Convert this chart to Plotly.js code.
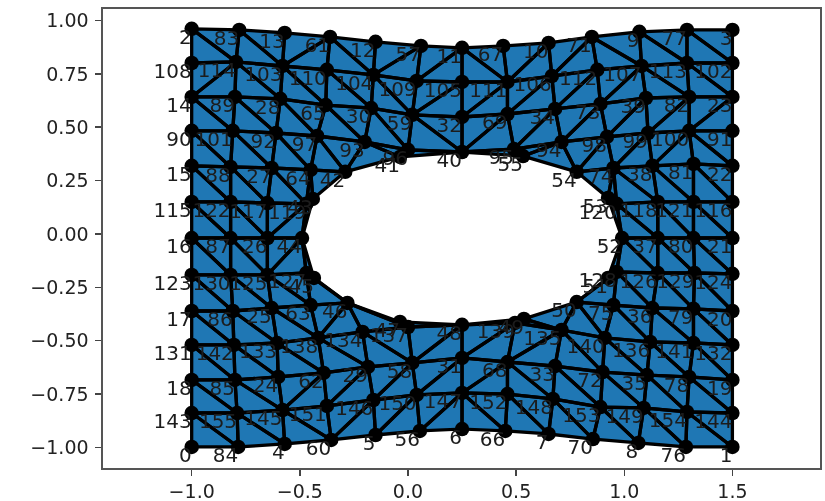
<!DOCTYPE html>
<html><head><meta charset="utf-8">
<script src="https://cdn.plot.ly/plotly-3.0.1.min.js"></script>
<style>html,body{margin:0;padding:0;background:#fff}#plot{width:825px;height:501px;filter:blur(0.75px)}</style>
</head><body><div id="plot"></div>
<script>
var n=null;
var rowIds=[
[2,83,13,61,12,57,11,67,10,71,9,77,3],
[108,114,103,110,104,109,105,111,106,112,107,113,102],
[14,89,28,65,30,59,32,69,34,73,39,82,23],
[90,101,92,97,93,96,40,95,94,98,99,100,91],
[15,88,27,64,42,n,n,n,54,74,38,81,22],
[115,122,117,119,43,n,n,n,53,120,118,121,116],
[16,87,26,44,n,n,n,n,n,52,37,80,21],
[123,130,125,127,45,n,n,n,51,128,126,129,124],
[17,86,25,63,46,n,n,n,50,75,36,79,20],
[131,142,133,138,134,137,48,139,135,140,136,141,132],
[18,85,24,62,29,58,31,68,33,72,35,78,19],
[143,155,145,151,146,150,147,152,148,153,149,154,144],
[0,84,4,60,5,56,6,66,7,70,8,76,1]];
var rowX=[
[-1,-.78,-.57,-.36,-.15,.06,.25,.44,.65,.85,1.07,1.29,1.5],
[-1,-.795,-.58,-.375,-.16,.04,.25,.46,.665,.875,1.08,1.29,1.5],
[-1,-.8,-.59,-.38,-.17,.02,.25,.46,.68,.89,1.1,1.3,1.5],
[-1,-.81,-.61,-.42,-.2,0,.25,.49,.71,.92,1.11,1.3,1.5],
[-1,-.82,-.63,-.45,-.29,n,n,n,.78,.95,1.13,1.32,1.5],
[-1,-.82,-.65,-.47,-.44,n,n,n,.925,.965,1.155,1.32,1.5],
[-1,-.82,-.65,-.49,n,n,n,n,n,.99,1.155,1.32,1.5],
[-1,-.82,-.65,-.47,-.435,n,n,n,.925,.965,1.155,1.325,1.5],
[-1,-.81,-.63,-.45,-.28,n,n,n,.78,.95,1.13,1.32,1.5],
[-1,-.805,-.605,-.415,-.21,0,.25,.495,.71,.91,1.12,1.32,1.5],
[-1,-.8,-.6,-.39,-.185,.02,.25,.46,.68,.9,1.105,1.3,1.5],
[-1,-.79,-.58,-.375,-.16,.04,.25,.46,.67,.89,1.09,1.29,1.5],
[-1,-.785,-.57,-.355,-.15,.055,.25,.45,.65,.855,1.065,1.285,1.5]];
var rowY=[
[.961,.956,.942,.923,.9,.881,.872,.881,.895,.923,.947,.956,.956],
[.801,.806,.787,.769,.745,.717,.712,.712,.74,.769,.787,.801,.801],
[.642,.642,.633,.604,.59,.558,.548,.562,.586,.609,.637,.642,.642],
[.483,.483,.473,.459,.431,.394,.384,.398,.431,.455,.473,.483,.483],
[.319,.314,.309,.3,.291,n,n,n,.291,.309,.319,.328,.319],
[.15,.15,.145,.141,.164,n,n,n,.169,.141,.15,.15,.15],
[-.019,-.019,-.019,-.019,n,n,n,n,n,-.019,-.019,-.019,-.019],
[-.192,-.192,-.192,-.183,-.206,n,n,n,-.206,-.178,-.183,-.183,-.187],
[-.361,-.361,-.347,-.333,-.323,n,n,n,-.319,-.333,-.347,-.351,-.361],
[-.52,-.52,-.511,-.487,-.459,-.436,-.426,-.417,-.45,-.487,-.506,-.511,-.52],
[-.684,-.684,-.67,-.651,-.623,-.604,-.581,-.6,-.619,-.647,-.661,-.67,-.684],
[-.839,-.839,-.825,-.806,-.778,-.754,-.745,-.75,-.773,-.811,-.815,-.834,-.839],
[-.998,-.998,-.984,-.965,-.942,-.923,-.914,-.923,-.937,-.961,-.979,-.998,-.998]];
var extraIds=[41,55,47,49];
var extraX=[-.037,.532,-.037,.536];
var extraY=[.361,.365,-.412,-.398];
var cellDiagonals=[
"bbfbffbffbbb",
"fbbbbfffffbb",
"bbbbbbffffff",
"bbbb....fffb",
"bbbb....fbbb",
"bbf......bbb",
"bbf......bbb",
"bbbb....fbbb",
"bbbf....bbbb",
"bbbbbfffbbbb",
"bbfffffbbbbb",
"bbbfffbbbbbb"];
var holeTriangles=[[93,96,41],[93,41,42],[96,40,41],[40,95,55],[95,94,55],[94,54,55],
[119,43,44],[53,120,52],[44,127,45],[52,128,51],
[46,47,137],[46,137,134],[47,48,137],[48,49,139],[49,135,139],[49,50,135]];
var xTicks=[-1,-.5,0,.5,1,1.5];
var yTicks=[-1,-.75,-.5,-.25,0,.25,.5,.75,1];

var pos={},ids=[],xs=[],ys=[];
rowIds.forEach(function(row,r){row.forEach(function(id,c){if(id===null)return;
  pos[id]=[rowX[r][c],rowY[r][c]];ids.push(id);xs.push(rowX[r][c]);ys.push(rowY[r][c]);});});
extraIds.forEach(function(id,i){pos[id]=[extraX[i],extraY[i]];ids.push(id);xs.push(extraX[i]);ys.push(extraY[i]);});
var tris=holeTriangles.slice();
cellDiagonals.forEach(function(d,r){for(var c=0;c<12;c++){
  var a=rowIds[r][c],b=rowIds[r][c+1],p=rowIds[r+1][c],q=rowIds[r+1][c+1];
  if(d[c]==='b'){tris.push([a,b,q],[a,q,p]);}
  else if(d[c]==='f'){tris.push([a,b,p],[b,q,p]);}
}});
var tx=[],ty=[];
tris.forEach(function(t){[t[0],t[1],t[2],t[0]].forEach(function(id){tx.push(pos[id][0]);ty.push(pos[id][1]);});tx.push(null);ty.push(null);});

var traces=[
 {type:'scatter',mode:'lines',x:tx,y:ty,fill:'toself',fillcolor:'#1f77b4',line:{color:'#000',width:3.3},hoverinfo:'skip',showlegend:false},
 {type:'scatter',mode:'markers',x:xs,y:ys,marker:{color:'#000',size:14.5},hoverinfo:'skip',showlegend:false},
 {type:'scatter',mode:'text',x:xs,y:ys,text:ids.map(String),textposition:'bottom left',
  textfont:{family:'DejaVu Sans',size:20,color:'#1c1c1c'},hoverinfo:'skip',showlegend:false}
];
var ax={showgrid:false,zeroline:false,showline:true,mirror:true,linecolor:'#555',linewidth:1.6,
 ticks:'outside',ticklen:6,tickwidth:1.5,tickcolor:'#444',tickfont:{family:'DejaVu Sans',size:19,color:'#222'}};
var layout={width:825,height:501,paper_bgcolor:'#fff',plot_bgcolor:'#fff',showlegend:false,
 margin:{l:103,r:5,t:9,b:33,pad:0},
 xaxis:Object.assign({},ax,{range:[-1.41,1.905],tickmode:'array',tickvals:xTicks,tickformat:'.1f',ticklabelstandoff:0}),
 yaxis:Object.assign({},ax,{range:[-1.0966,1.054],tickmode:'array',tickvals:yTicks,tickformat:'.2f',ticklabelstandoff:3})};
Plotly.newPlot('plot',traces,layout,{displayModeBar:false,staticPlot:true});
</script></body></html>
